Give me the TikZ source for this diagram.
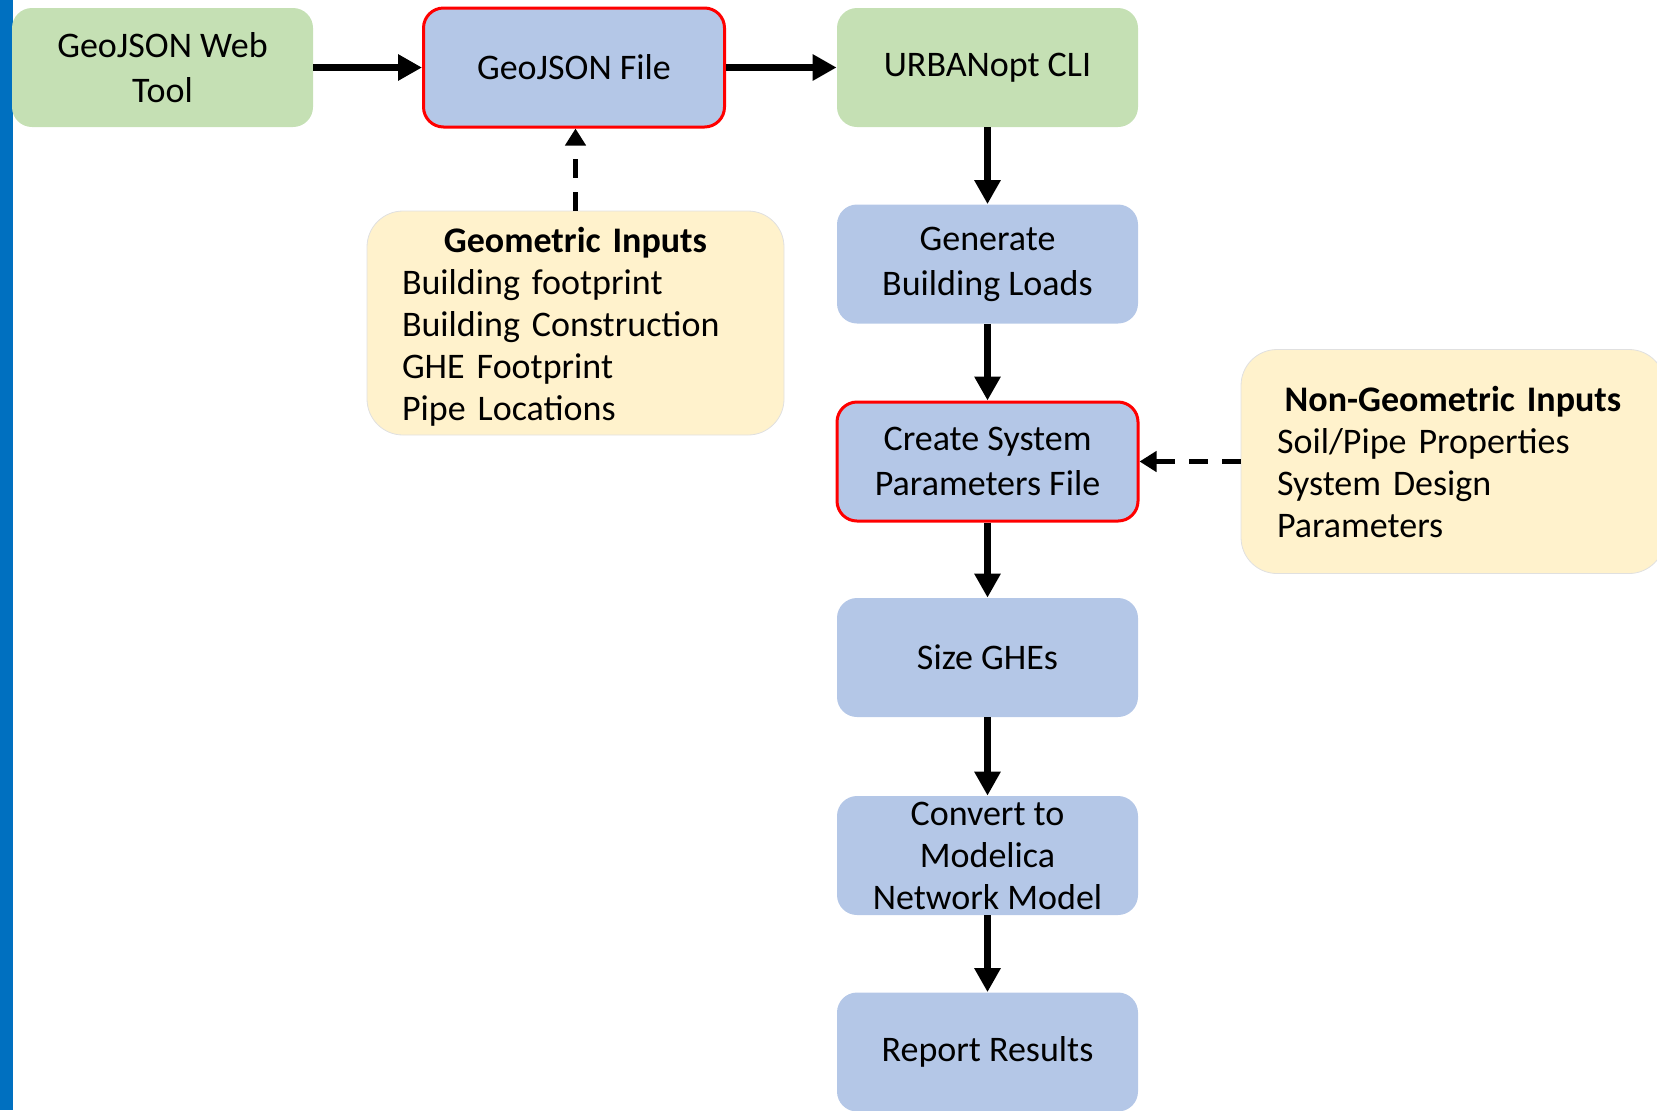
\documentclass[tikz,border=0pt]{standalone}
\usepackage{fontspec}
\setmainfont{Carlito}
\newfontfamily\inputfamily{Carlito}[WordSpace=0.7]
\usetikzlibrary{arrows.meta}

\definecolor{toolgreen}{HTML}{C5E0B4}
\definecolor{stepblue}{HTML}{B4C7E7}
\definecolor{inputyellow}{HTML}{FFF2CC}
\definecolor{barblue}{HTML}{0070C0}

\begin{document}
\begin{tikzpicture}[x=0.5pt,y=-0.5pt]
        \tikzstyle{every node}+=[font=\fontsize{18}{22.5}\selectfont]
        \tikzstyle{stepbox}=[rounded corners=10pt, fill=stepblue, minimum width=150.5pt, minimum height=59.5pt, inner ysep=0pt, align=center]
        \tikzstyle{toolbox}=[stepbox, fill=toolgreen]
        \tikzstyle{keybox}=[stepbox, draw=red, line width=1.5pt]
        \tikzstyle{inbox}=[rounded corners=18pt, fill=inputyellow, draw=black!12, minimum height=112pt, inner ysep=0pt, align=left, font=\inputfamily\fontsize{18}{21}\selectfont]
        \tikzstyle{flow}=[line width=3.75pt, -{Triangle[length=12pt,width=12.5pt]}]
        \tikzstyle{feed}=[line width=2.5pt, dash pattern=on 9.5pt off 7pt, -{Triangle[length=8.5pt,width=10pt]}]
        \useasboundingbox (0,0) rectangle (1657,1110);
        \fill [barblue] (0,0) rectangle (13,1110);
        % top row
        \node [toolbox] (webtool) at (162.5,67.5) {GeoJSON Web\\Tool};
        \node [keybox] (geojson) at (574,67.5) {GeoJSON File};
        \node [toolbox] (cli) at (987.5,67.5) {URBANopt CLI};
        % workflow column
        \node [stepbox] (loads) at (987.5,264) {Generate\\Building Loads};
        \node [keybox] (sysparam) at (987.5,461.5) {Create System\\Parameters File};
        \node [stepbox] (sizing) at (987.5,657.5) {Size GHEs};
        \node [stepbox, font=\fontsize{18}{21}\selectfont] (modelica) at (987.5,855.5) {Convert to\\Modelica\\Network Model};
        \node [stepbox] (report) at (987.5,1052) {Report Results};
        % inputs
        \node [inbox, text width=173.5pt, inner xsep=17.5pt] (geoin) at (575.5,323) {\centering\rule{0pt}{16pt}\textbf{Geometric Inputs}\par\raggedright Building footprint\\Building Construction\\GHE Footprint\\Pipe Locations};
        \node [inbox, text width=176pt, inner xsep=18pt] (nongeoin) at (1453,461.5) {\centering\textbf{Non-Geometric Inputs}\par\raggedright Soil/Pipe Properties\\System Design\\Parameters};
        \draw [flow] (webtool.east) -- (geojson.west);
        \draw [flow] (geojson.east) -- (cli.west);
        \draw [flow] (cli) -- (loads);
        \draw [flow] (loads) -- (sysparam);
        \draw [flow] (sysparam) -- (sizing);
        \draw [flow] (sizing) -- (modelica);
        \draw [flow] (modelica) -- (report);
        \draw [feed] (geoin.north) -- (geoin.north |- geojson.south);
        \draw [feed] (nongeoin.west) -- (sysparam.east);
\end{tikzpicture}
\end{document}
